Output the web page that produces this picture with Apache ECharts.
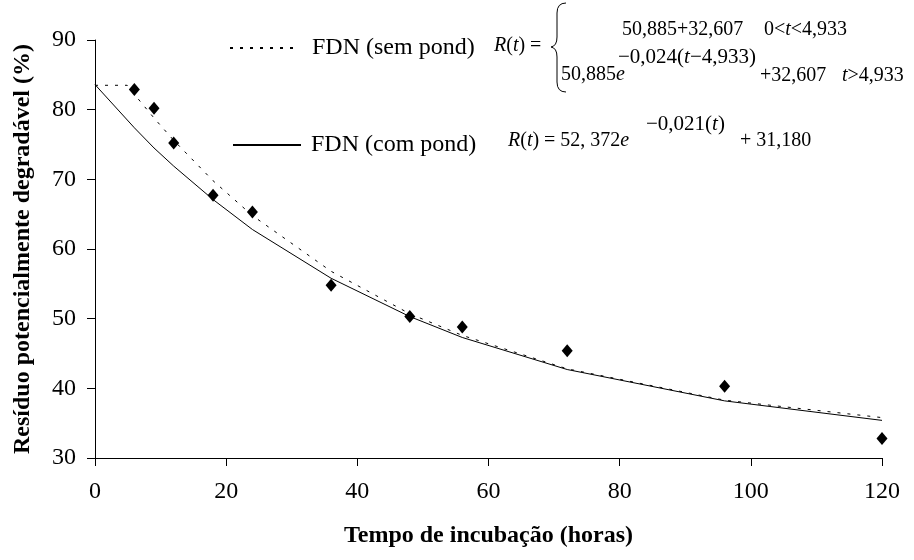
<!DOCTYPE html>
<html>
<head>
<meta charset="utf-8">
<script src="https://cdn.jsdelivr.net/npm/echarts@6/dist/echarts.min.js"></script>
<style>
html,body{margin:0;padding:0;background:#fff;}
#chart{width:914px;height:560px;}
</style>
</head>
<body>
<div id="chart"></div>
<script>
// Observed points (diamonds)
const times = [6, 9, 12, 18, 24, 36, 48, 56, 72, 96, 120];
const observed = [82.9, 80.2, 75.2, 67.7, 65.3, 54.8, 50.3, 48.8, 45.4, 40.3, 32.8];

// Fitted curve, unweighted (dashed)
const semTimes = [0, 4.9, 6, 9, 12, 18, 24, 36, 48, 56, 72, 96, 120];
const semValues = [83.5, 83.5, 82.2, 78.8, 75.6, 69.8, 64.8, 56.8, 50.7, 47.6, 42.8, 38.3, 35.8];

// Fitted curve, weighted (solid)
const comTimes = [0, 6, 9, 12, 18, 24, 36, 48, 56, 72, 96, 120];
const comValues = [83.6, 77.4, 74.5, 71.9, 67.1, 62.8, 55.8, 50.3, 47.3, 42.7, 38.2, 35.4];

const seriesNames = ['FDN (sem pond)', 'FDN (com pond)'];
const xTitle = 'Tempo de incubação (horas)';
const yTitle = 'Resíduo potencialmente degradável (%)';

const pair = (xs, ys) => xs.map((x, i) => [x, ys[i]]);
const FONT = 'Liberation Serif';
const eqFont = '20px "Liberation Serif"';
const supFont = '21px "Liberation Serif"';
const rich = { i: { fontStyle: 'italic', fontFamily: FONT, fontSize: 20 } };
const richSup = { i: { fontStyle: 'italic', fontFamily: FONT, fontSize: 21 } };
const braceStyle = { stroke: '#000', lineWidth: 1, fill: null };

const chart = echarts.init(document.getElementById('chart'));
chart.setOption({
  animation: false,
  backgroundColor: '#ffffff',
  textStyle: { fontFamily: FONT },
  grid: { left: 95, right: 32, top: 40, bottom: 102 },
  xAxis: {
    type: 'value', min: 0, max: 120, interval: 20,
    name: xTitle, nameLocation: 'middle', nameGap: 66,
    nameTextStyle: { fontFamily: FONT, fontSize: 24, fontWeight: 'bold', color: '#000' },
    axisLine: { lineStyle: { color: '#000', width: 1 } },
    axisTick: { show: true, length: 8, lineStyle: { color: '#000' } },
    axisLabel: { color: '#000', fontFamily: FONT, fontSize: 24, margin: 22 },
    splitLine: { show: false }
  },
  yAxis: {
    type: 'value', min: 30, max: 90, interval: 10,
    name: yTitle, nameLocation: 'middle', nameGap: 60, nameRotate: 90,
    nameTextStyle: { fontFamily: FONT, fontSize: 24, fontWeight: 'bold', color: '#000' },
    axisLine: { show: true, lineStyle: { color: '#000', width: 1 } },
    axisTick: { show: true, length: 8, lineStyle: { color: '#000' } },
    axisLabel: { color: '#000', fontFamily: FONT, fontSize: 24, margin: 19 },
    splitLine: { show: false }
  },
  legend: [
    {
      data: [seriesNames[0]], left: 229, top: 36, padding: 0, orient: 'vertical',
      itemWidth: 67, itemHeight: 14, itemStyle: { opacity: 0 },
      textStyle: { fontFamily: FONT, fontSize: 24, color: '#000', padding: [0, 0, 0, 10] }
    },
    {
      data: [seriesNames[1]], left: 232, top: 133, padding: 0, orient: 'vertical',
      itemWidth: 68, itemHeight: 14, itemStyle: { opacity: 0 },
      textStyle: { fontFamily: FONT, fontSize: 24, color: '#000', padding: [0, 0, 0, 5] }
    }
  ],
  series: [
    {
      name: seriesNames[0], type: 'line', data: pair(semTimes, semValues),
      symbol: 'none', itemStyle: { color: '#000' },
      lineStyle: { color: '#000', width: 1, type: [3, 7] }, z: 2
    },
    {
      name: seriesNames[1], type: 'line', data: pair(comTimes, comValues),
      symbol: 'none', itemStyle: { color: '#000' },
      lineStyle: { color: '#000', width: 1, type: 'solid' }, z: 2
    },
    {
      name: 'Observado', type: 'scatter', data: pair(times, observed),
      symbol: 'diamond', symbolSize: [11, 13], itemStyle: { color: '#000', opacity: 1 }, z: 3
    }
  ],
  graphic: [
    { type: 'text', style: { text: '{i|R}({i|t}) =', x: 494, y: 46, font: eqFont, fill: '#000', verticalAlign: 'middle', rich } },
    { type: 'bezierCurve', shape: { x1: 566, y1: 3, cpx1: 557, cpy1: 3, x2: 557, y2: 13 }, style: braceStyle },
    { type: 'line', shape: { x1: 557, y1: 13, x2: 557, y2: 37 }, style: braceStyle },
    { type: 'bezierCurve', shape: { x1: 557, y1: 37, cpx1: 557, cpy1: 46, x2: 551, y2: 47 }, style: braceStyle },
    { type: 'bezierCurve', shape: { x1: 551, y1: 47, cpx1: 557, cpy1: 48, x2: 557, y2: 57 }, style: braceStyle },
    { type: 'line', shape: { x1: 557, y1: 57, x2: 557, y2: 82 }, style: braceStyle },
    { type: 'bezierCurve', shape: { x1: 557, y1: 82, cpx1: 557, cpy1: 92, x2: 566, y2: 92 }, style: braceStyle },
    { type: 'text', style: { text: '50,885+32,607', x: 622, y: 30, font: eqFont, fill: '#000', verticalAlign: 'middle', rich } },
    { type: 'text', style: { text: '0<{i|t}<4,933', x: 764, y: 30, font: eqFont, fill: '#000', verticalAlign: 'middle', rich } },
    { type: 'text', style: { text: '50,885{i|e}', x: 561, y: 75, font: eqFont, fill: '#000', verticalAlign: 'middle', rich } },
    { type: 'text', style: { text: '−0,024({i|t}−4,933)', x: 618, y: 57, font: supFont, fill: '#000', verticalAlign: 'middle', rich: richSup } },
    { type: 'text', style: { text: '+32,607', x: 760, y: 76, font: eqFont, fill: '#000', verticalAlign: 'middle', rich } },
    { type: 'text', style: { text: '{i|t}>4,933', x: 842, y: 76, font: eqFont, fill: '#000', verticalAlign: 'middle', rich } },
    { type: 'text', style: { text: '{i|R}({i|t}) = 52, 372{i|e}', x: 508, y: 141, font: eqFont, fill: '#000', verticalAlign: 'middle', rich } },
    { type: 'text', style: { text: '−0,021({i|t})', x: 646, y: 124, font: supFont, fill: '#000', verticalAlign: 'middle', rich: richSup } },
    { type: 'text', style: { text: '+ 31,180', x: 740, y: 141, font: eqFont, fill: '#000', verticalAlign: 'middle', rich } }
  ]
});
</script>
</body>
</html>
